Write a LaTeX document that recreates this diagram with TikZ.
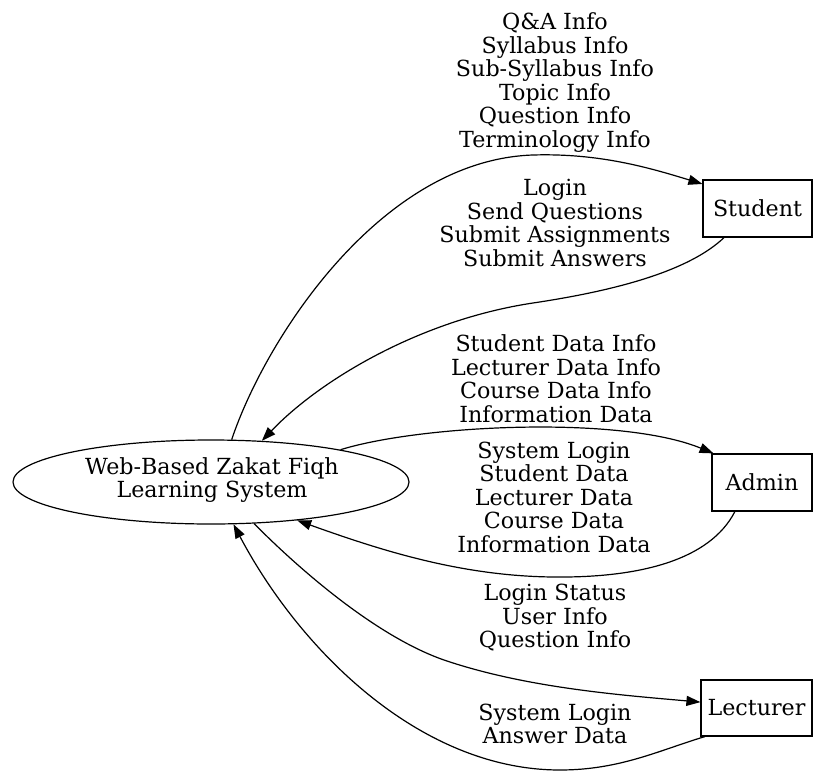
\documentclass[tikz,border=0pt]{standalone}
\usepackage{fontspec}
\setmainfont{DejaVu Serif}
\usetikzlibrary{shapes.geometric,arrows.meta}
\begin{document}
\begin{tikzpicture}[x=1pt,y=-1pt,
  every node/.style={font=\fontsize{22.2}{23.5}\selectfont, inner sep=0pt},
  boxnode/.style={draw, line width=1.2pt, rectangle},
  ellnode/.style={draw, line width=1.2pt, ellipse},
  lbl/.style={align=center},
  flow/.style={line width=1.2pt, -{Triangle[length=14pt,width=10pt]}}]
\useasboundingbox (0,0) rectangle (814,771);
\node[ellnode, minimum width=396pt, minimum height=84pt] (sys) at (211,482) {};
\node[lbl] (systext) at (212,480) {Web-Based Zakat Fiqh\\Learning System};
\node[boxnode, minimum width=109pt, minimum height=57pt] (student) at (757.5,208.5) {};
\node (studenttext) at (student.center) {Student};
\node[boxnode, minimum width=100pt, minimum height=57pt] (admin) at (762,482.5) {};
\node (admintext) at (admin.center) {Admin};
\node[boxnode, minimum width=111pt, minimum height=56pt] (lecturer) at (756.5,708) {};
\node (lecturertext) at (lecturer.center) {Lecturer};

\node[lbl] (l1) at (555,82.5) {Q\&A Info\\Syllabus Info\\Sub-Syllabus Info\\Topic Info\\Question Info\\Terminology Info};
\node[lbl] (l2) at (555,223) {Login\\Send Questions\\Submit Assignments\\Submit Answers};
\node[lbl] (l3) at (556,378.5) {Student Data Info\\Lecturer Data Info\\Course Data Info\\Information Data};
\node[lbl] (l4) at (554,497) {System Login\\Student Data\\Lecturer Data\\Course Data\\Information Data};
\node[lbl] (l5) at (555,618) {Login Status\\User Info\\Question Info};
\node[lbl] (l6) at (555,724) {System Login\\Answer Data};

\draw[flow] (sys.64.5) .. controls (265,340) and (380,160) .. (533,155) .. controls (600,153) and (650,168) .. (student.156.7);
\draw[flow] (student.221.2) .. controls (690,270) and (620,290) .. (533,303) .. controls (420,320) and (320,380) .. (sys.39.5);
\draw[flow] (sys.14.8) .. controls (420,425) and (620,415) .. (admin.149);
\draw[flow] (admin.227.6) .. controls (710,560) and (640,578) .. (553,577) .. controls (460,576) and (380,550) .. (sys.-24.1);
\draw[flow] (sys.-44.3) .. controls (300,570) and (380,640) .. (450,662) .. controls (530,688) and (620,695) .. (lecturer.174.9);
\draw[flow] (lecturer.209.5) .. controls (660,750) and (620,770) .. (560,770) .. controls (420,770) and (300,650) .. (sys.-62);
\end{tikzpicture}
\end{document}
